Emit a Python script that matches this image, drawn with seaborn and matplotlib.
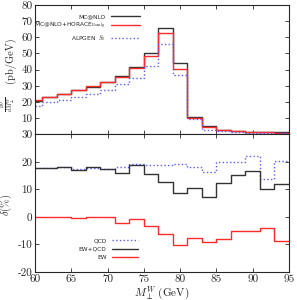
import numpy as np
import pandas as pd
import matplotlib
matplotlib.use("Agg")
import matplotlib.pyplot as plt
import seaborn as sns

sns.set_style("ticks")
plt.rcParams["font.family"] = ["cmr10", "DejaVu Serif"]
plt.rcParams["mathtext.fontset"] = "cm"
plt.rcParams["axes.unicode_minus"] = False
plt.rcParams["axes.formatter.use_mathtext"] = False

# bin edges in M_perp^W (GeV)
edges = [60, 61, 63, 65, 67, 69, 71, 73, 75, 77, 79, 81, 83, 85, 87, 89, 91, 93, 95]

# top panel: dsigma/dM (pb/GeV)
mcnlo = [20.9, 22.9, 25.0, 27.2, 29.5, 32.3, 36.0, 41.3, 50.1, 65.7, 44.0, 10.8, 4.9, 2.9, 2.0, 1.6, 1.4, 1.2]
mcnlo_horace = [21.5, 23.1, 25.2, 27.4, 29.7, 32.5, 35.2, 40.9, 48.6, 62.4, 40.3, 10.4, 4.3, 2.6, 1.8, 1.4, 1.2, 1.0]
alpgen = [17.8, 20.0, 21.1, 23.1, 25.2, 27.6, 30.9, 34.8, 42.2, 55.7, 36.8, 9.2, 2.5, 1.8, 1.3, 1.1, 0.9, 0.8]

# bottom panel: delta (%)
qcd = [17.7, 17.7, 18.0, 17.4, 17.9, 17.5, 18.3, 19.2, 18.8, 18.8, 19.2, 18.2, 16.4, 20.1, 20.1, 22.2, 13.9, 20.4]
ew_qcd = [17.7, 17.7, 18.1, 17.2, 18.1, 17.5, 15.9, 18.8, 15.6, 12.5, 8.8, 10.5, 7.3, 12.2, 15.3, 16.8, 10.1, 11.8]
ew = [-0.1, -0.1, -0.1, -0.6, 0.1, -0.2, -2.3, -0.7, -3.4, -6.1, -10.3, -7.6, -9.2, -8.2, -5.1, -5.1, -4.2, -8.7]


def steps(vals, name):
    return pd.DataFrame({"x": edges, "y": list(vals) + [vals[-1]], "s": name})


fig = plt.figure(figsize=(2.97, 3.0), dpi=100)
ax1 = fig.add_axes([0.118, 0.552, 0.855, 0.432])
ax2 = fig.add_axes([0.118, 0.094, 0.855, 0.458])

black, red, blue = "#333333", "#ff2a2a", "#5a5aff"

top = [(mcnlo, "MC@NLO", black, "-"),
       (mcnlo_horace, r"MC@NLO+HORACE$_{\rm Born\,lg}$", red, "-"),
       (alpgen, r"ALPGEN  $S_0$", blue, ":")]
for vals, lab, col, ls in top:
    sns.lineplot(data=steps(vals, lab), x="x", y="y", ax=ax1, color=col, linestyle=ls,
                 drawstyle="steps-post", estimator=None, sort=False, lw=1.0, label=lab)

bot = [(qcd, "QCD", blue, ":"),
       (ew_qcd, "EW+QCD", black, "-"),
       (ew, "EW", red, "-")]
for vals, lab, col, ls in bot:
    sns.lineplot(data=steps(vals, lab), x="x", y="y", ax=ax2, color=col, linestyle=ls,
                 drawstyle="steps-post", estimator=None, sort=False, lw=1.0, label=lab)

ax1.set_xlim(60, 95)
ax1.set_ylim(0, 80)
ax1.set_yticks(np.arange(10, 81, 10))
ax1.set_xticks(np.arange(60, 96, 5))
ax1.set_xticklabels([])
ax1.set_xlabel("")
ax1.set_ylabel("")
# y label drawn in two pieces: small fraction + unit
ax1.text(-0.105, 0.235, r"$\frac{d\sigma}{dM_{\perp}^{W}}$", rotation=90, fontsize=6,
         ha="center", va="center", transform=ax1.transAxes)
ax1.text(-0.098, 0.574, "(pb/GeV)", rotation=90, fontsize=7.5,
         ha="center", va="center", transform=ax1.transAxes)

ax2.set_xlim(60, 95)
ax2.set_ylim(-20, 30)
ax2.set_yticks(np.arange(-20, 31, 10))
ax2.set_xticks(np.arange(60, 96, 5))
ax2.set_xlabel(r"$M_{\perp}^{W}$ (GeV)", fontsize=8, labelpad=0)
ax2.set_ylabel("")
ax2.text(-0.112, 0.49, r"$\delta(\%)$", rotation=90, fontsize=7.5,
         ha="center", va="center", transform=ax2.transAxes)

for ax in (ax1, ax2):
    ax.tick_params(direction="in", length=3, width=0.6, labelsize=8, pad=2,
                   top=True, right=True)
    for sp in ax.spines.values():
        sp.set_linewidth(0.8)
        sp.set_visible(True)

leg_font = {"family": "DejaVu Sans", "size": 4.2}
ax1.legend(loc="center right", bbox_to_anchor=(0.425, 0.815), frameon=False, markerfirst=False,
           prop=leg_font, handlelength=5.0, labelspacing=0.3, borderpad=0, handletextpad=0.9)
ax2.legend(loc="center right", bbox_to_anchor=(0.415, 0.165), frameon=False, markerfirst=False,
           prop=leg_font, handlelength=4.4, labelspacing=0.6, borderpad=0, handletextpad=0.9)

fig.savefig("out.png", dpi=100)
